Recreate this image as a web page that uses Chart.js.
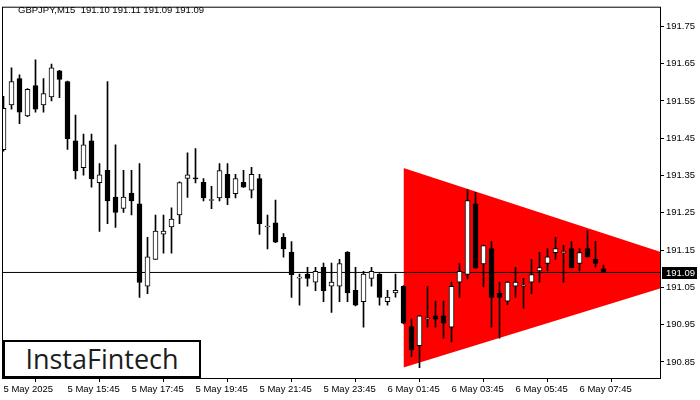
<!DOCTYPE html>
<html>
<head>
<meta charset="utf-8">
<title>GBPJPY M15</title>
<script src="https://cdn.jsdelivr.net/npm/chart.js@4.4.1/dist/chart.umd.min.js"></script>
<style>
  html, body { margin: 0; padding: 0; background: #fff; }
  #wrap { position: relative; width: 700px; height: 400px; overflow: hidden; }
  #title {
    position: absolute; left: 18px; top: 4px;
    font: 9.5px "Liberation Sans", Arial, sans-serif; color: #000; white-space: pre;
  }
  #logo {
    position: absolute; left: 3px; top: 340px; width: 194px; height: 34px;
    border: 2px solid #000; background: #fff;
    font: 500 27px "Open Sans", "Noto Sans", sans-serif; color: #1c1c1c;
    line-height: 34px; text-align: center;
  }
</style>
</head>
<body>
<div id="wrap">
  <canvas id="chart" width="700" height="400"></canvas>
  <div id="title">GBPJPY,M15  191.10 191.11 191.09 191.09</div>
  <div id="logo">InstaFintech</div>
</div>
<script>
// M15 candles, 5 May 13:45 .. 6 May 08:30 (index 0..75)
const open = [191.419, 191.539, 191.610, 191.510, 191.591, 191.539, 191.561, 191.631, 191.602, 191.443,
  191.371, 191.443, 191.331, 191.364, 191.292, 191.262, 191.303, 191.274, 191.053, 191.125,
  191.193, 191.212, 191.244, 191.342, 191.342, 191.332, 191.283, 191.290, 191.353, 191.301,
  191.332, 191.311, 191.342, 191.212, 191.223, 191.184, 191.145, 191.075, 191.086, 191.064,
  191.104, 191.053, 191.053, 191.145, 191.042, 191.012, 191.074, 191.086, 191.012, 191.035,
  191.053, 190.945, 190.894, 190.966, 190.974, 190.974, 190.943, 191.064, 191.085, 191.274,
  191.113, 191.154, 191.035, 191.013, 191.053, 191.053, 191.064, 191.094, 191.114, 191.143,
  191.143, 191.154, 191.114, 191.154, 191.125, 191.100]
const high = [191.562, 191.639, 191.620, 191.583, 191.660, 191.610, 191.649, 191.632, 191.603, 191.512,
  191.461, 191.461, 191.382, 191.602, 191.432, 191.364, 191.364, 191.382, 191.184, 191.244,
  191.244, 191.263, 191.333, 191.411, 191.422, 191.342, 191.321, 191.382, 191.382, 191.353,
  191.364, 191.372, 191.353, 191.244, 191.284, 191.194, 191.173, 191.086, 191.104, 191.104,
  191.115, 191.115, 191.125, 191.146, 191.104, 191.093, 191.104, 191.087, 191.042, 191.086,
  191.055, 190.966, 190.975, 191.053, 191.013, 191.013, 191.064, 191.114, 191.312, 191.305,
  191.163, 191.173, 191.064, 191.066, 191.104, 191.074, 191.125, 191.144, 191.154, 191.184,
  191.163, 191.173, 191.154, 191.202, 191.173, 191.110]
const low = [191.415, 191.528, 191.489, 191.508, 191.520, 191.520, 191.550, 191.559, 191.420, 191.341,
  191.351, 191.319, 191.200, 191.221, 191.211, 191.251, 191.244, 191.023, 191.033, 191.125,
  191.142, 191.142, 191.221, 191.291, 191.330, 191.282, 191.261, 191.282, 191.272, 191.290,
  191.318, 191.290, 191.192, 191.153, 191.170, 191.131, 191.023, 191.002, 191.053, 191.041,
  191.012, 190.983, 191.012, 191.012, 191.000, 190.943, 191.053, 191.002, 191.002, 191.024,
  190.952, 190.864, 190.835, 190.943, 190.943, 190.914, 190.904, 191.023, 191.073, 191.101,
  191.051, 190.943, 190.914, 191.003, 191.023, 190.994, 191.033, 191.064, 191.094, 191.125,
  191.064, 191.102, 191.094, 191.131, 191.104, 191.090]
const close = [191.530, 191.602, 191.520, 191.581, 191.528, 191.570, 191.639, 191.608, 191.449, 191.362,
  191.432, 191.341, 191.352, 191.282, 191.251, 191.292, 191.282, 191.063, 191.132, 191.201,
  191.201, 191.233, 191.331, 191.352, 191.341, 191.290, 191.283, 191.363, 191.290, 191.342,
  191.319, 191.353, 191.221, 191.212, 191.171, 191.153, 191.084, 191.075, 191.074, 191.093,
  191.041, 191.064, 191.114, 191.035, 191.002, 191.086, 191.093, 191.023, 191.024, 191.042,
  190.954, 190.882, 190.974, 190.966, 190.965, 190.954, 191.053, 191.093, 191.283, 191.102,
  191.162, 191.023, 191.023, 191.064, 191.064, 191.053, 191.084, 191.103, 191.132, 191.154,
  191.143, 191.103, 191.143, 191.132, 191.114, 191.090]

// symmetrical triangle (upper and lower edges meet at the apex)
const triX = [50, 89.3]
const triUpper = [191.37, 191.095]
const triLower = [190.835, 191.095]

const bidPrice = 191.09

const yTicks = [190.85, 190.95, 191.05, 191.15, 191.25, 191.35, 191.45, 191.55, 191.65, 191.75]
const xTickIdx = [0, 8, 16, 24, 32, 40, 48, 56, 64, 72]
const xTickLabels = ['5 May 2025', '5 May 15:45', '5 May 17:45', '5 May 19:45', '5 May 21:45',
  '5 May 23:45', '6 May 01:45', '6 May 03:45', '6 May 05:45', '6 May 07:45']

const xMin = -0.0625
const xMax = 82.06
const yMin = 190.807
const yMax = 191.800

const isUp = i => close[i] >= open[i]

const bodies = open.map((o, i) => ({ x: i, y: [o, close[i]] }))
const wicks = open.map((o, i) => ({ x: i, y: [low[i], high[i]] }))

// frame around the plot + current price box on the axis
const chartDecor = {
  id: 'chartDecor',
  afterDraw(chart) {
    const { ctx, chartArea } = chart
    const yScale = chart.scales.y
    ctx.save()
    ctx.strokeStyle = '#000'
    ctx.lineWidth = 1
    ctx.strokeRect(chartArea.left - 0.5, chartArea.top - 0.5,
      chartArea.right - chartArea.left + 1, chartArea.bottom - chartArea.top + 1)

    const y = Math.round(yScale.getPixelForValue(bidPrice))
    ctx.fillStyle = '#000'
    ctx.fillRect(chartArea.right + 2, y - 5, 35, 12)
    ctx.fillStyle = '#fff'
    ctx.font = '9.5px "Liberation Sans", Arial, sans-serif'
    ctx.textBaseline = 'middle'
    ctx.textAlign = 'left'
    ctx.fillText(bidPrice.toFixed(2), chartArea.right + 6, y + 1)
    ctx.restore()
  }
}

new Chart(document.getElementById('chart'), {
  type: 'bar',
  data: {
    datasets: [
      {
        label: 'body',
        data: bodies,
        order: 0,
        grouped: false,
        barThickness: 5,
        minBarLength: 1,
        borderWidth: 1,
        borderSkipped: false,
        borderColor: '#000',
        backgroundColor: ctx => isUp(ctx.dataIndex) ? '#fff' : '#000'
      },
      {
        label: 'wick',
        data: wicks,
        order: 1,
        grouped: false,
        barThickness: 1,
        borderWidth: 0,
        backgroundColor: '#000'
      },
      {
        type: 'line',
        label: 'bid',
        data: [{ x: xMin, y: bidPrice }, { x: xMax, y: bidPrice }],
        order: 2,
        borderColor: '#000',
        borderWidth: 1,
        pointRadius: 0,
        fill: false
      },
      {
        type: 'line',
        label: 'triangle top',
        data: triX.map((x, i) => ({ x, y: triUpper[i] })),
        order: 3,
        borderWidth: 0,
        borderColor: '#ff0000',
        backgroundColor: '#ff0000',
        pointRadius: 0,
        fill: '+1'
      },
      {
        type: 'line',
        label: 'triangle bottom',
        data: triX.map((x, i) => ({ x, y: triLower[i] })),
        order: 4,
        borderWidth: 0,
        borderColor: '#ff0000',
        pointRadius: 0,
        fill: false
      }
    ]
  },
  options: {
    responsive: false,
    animation: false,
    devicePixelRatio: 1,
    layout: { padding: { left: 3, top: 3, right: 0, bottom: 0 } },
    plugins: {
      legend: { display: false },
      tooltip: { enabled: false }
    },
    scales: {
      x: {
        type: 'linear',
        min: xMin,
        max: xMax,
        offset: false,
        afterBuildTicks: scale => { scale.ticks = xTickIdx.map(v => ({ value: v })) },
        afterFit: scale => { scale.height = 22 },
        border: { display: false },
        grid: { drawOnChartArea: false, drawTicks: true, tickLength: 4, color: '#000' },
        ticks: {
          autoSkip: false,
          maxRotation: 0,
          align: 'start',
          padding: 2,
          color: '#000',
          font: { family: '"Liberation Sans", Arial, sans-serif', size: 9.5 },
          callback: v => xTickLabels[xTickIdx.indexOf(v)]
        }
      },
      y: {
        position: 'right',
        min: yMin,
        max: yMax,
        afterBuildTicks: scale => { scale.ticks = yTicks.map(v => ({ value: v })) },
        afterFit: scale => { scale.width = 40 },
        border: { display: false },
        grid: { drawOnChartArea: false, drawTicks: true, tickLength: 4, color: '#000' },
        ticks: {
          padding: 2,
          color: '#000',
          font: { family: '"Liberation Sans", Arial, sans-serif', size: 9.5 },
          callback: v => v.toFixed(2)
        }
      }
    }
  },
  plugins: [chartDecor]
})
</script>
</body>
</html>
